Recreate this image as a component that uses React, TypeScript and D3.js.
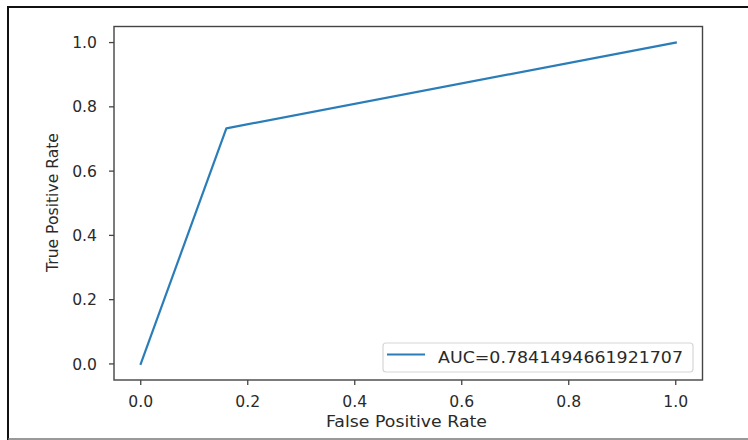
import React from "react";
import * as d3 from "d3";

const fpr = [0, 0.16, 1];
const tpr = [0, 0.733, 1];
const xTicks = [0, 0.2, 0.4, 0.6, 0.8, 1.0];
const yTicks = [0, 0.2, 0.4, 0.6, 0.8, 1.0];
const legendLabel = "AUC=0.7841494661921707";
const xLabel = "False Positive Rate";
const yLabel = "True Positive Rate";

const W = 748;
const H = 440;
const L = 114, T = 26.5, R = 702.5, B = 380;
const FONT = "'DejaVu Sans', sans-serif";
const FS = 15.6;
const TXT = "#2a2a2a";

export default function App() {
  const x = d3.scaleLinear().domain([-0.05, 1.05]).range([L, R]);
  const y = d3.scaleLinear().domain([-0.05, 1.05]).range([B, T]);
  const pts: [number, number][] = fpr.map((f, i) => [f, tpr[i]]);
  const line = d3.line<[number, number]>().x(d => x(d[0])).y(d => y(d[1]));

  return (
    <svg width={W} height={H} style={{ position: "absolute", left: 0, top: 0, background: "#fff" }}>
      {/* outer screenshot frame */}
      <line x1={8} y1={7} x2={W} y2={7} stroke="#111" strokeWidth={2} />
      <line x1={8} y1={6} x2={8} y2={H} stroke="#111" strokeWidth={2} />
      <line x1={8} y1={439} x2={W} y2={439} stroke="#777" strokeWidth={1.5} />

      {/* data line */}
      <path d={line(pts) || ""} fill="none" stroke="#2a7db8" strokeWidth={2.2} strokeLinejoin="round" strokeLinecap="square" />

      {/* axes frame */}
      <rect x={L} y={T} width={R - L} height={B - T} fill="none" stroke="#444" strokeWidth={1.4} />

      {/* x ticks */}
      {xTicks.map(t => (
        <g key={"x" + t}>
          <line x1={x(t)} x2={x(t)} y1={B} y2={B + 5} stroke="#444" strokeWidth={1.3} />
          <text x={x(t)} y={406.5} textAnchor="middle" fontFamily={FONT} fontSize={FS} fill={TXT}>
            {t.toFixed(1)}
          </text>
        </g>
      ))}
      {/* y ticks */}
      {yTicks.map(t => (
        <g key={"y" + t}>
          <line x1={L - 5} x2={L} y1={y(t)} y2={y(t)} stroke="#444" strokeWidth={1.3} />
          <text x={97} y={y(t)} dy="0.36em" textAnchor="end" fontFamily={FONT} fontSize={FS} fill={TXT}>
            {t.toFixed(1)}
          </text>
        </g>
      ))}

      {/* axis labels */}
      <text x={406.5} y={427} textAnchor="middle" fontFamily={FONT} fontSize={FS} fill={TXT}
        textLength={161} lengthAdjust="spacingAndGlyphs">{xLabel}</text>
      <text transform={`translate(58,202.5) rotate(-90)`} textAnchor="middle" fontFamily={FONT} fontSize={FS} fill={TXT}>
        {yLabel}
      </text>

      {/* legend */}
      <rect x={383} y={343} width={310} height={29} rx={3} fill="#fff" fillOpacity={0.8} stroke="#d6d6d6" strokeWidth={1.2} />
      <line x1={387} x2={425} y1={354.5} y2={354.5} stroke="#2a7db8" strokeWidth={2.2} />
      <text x={438} y={362.7} fontFamily={FONT} fontSize={FS} fill={TXT}
        textLength={245} lengthAdjust="spacingAndGlyphs">{legendLabel}</text>
    </svg>
  );
}
